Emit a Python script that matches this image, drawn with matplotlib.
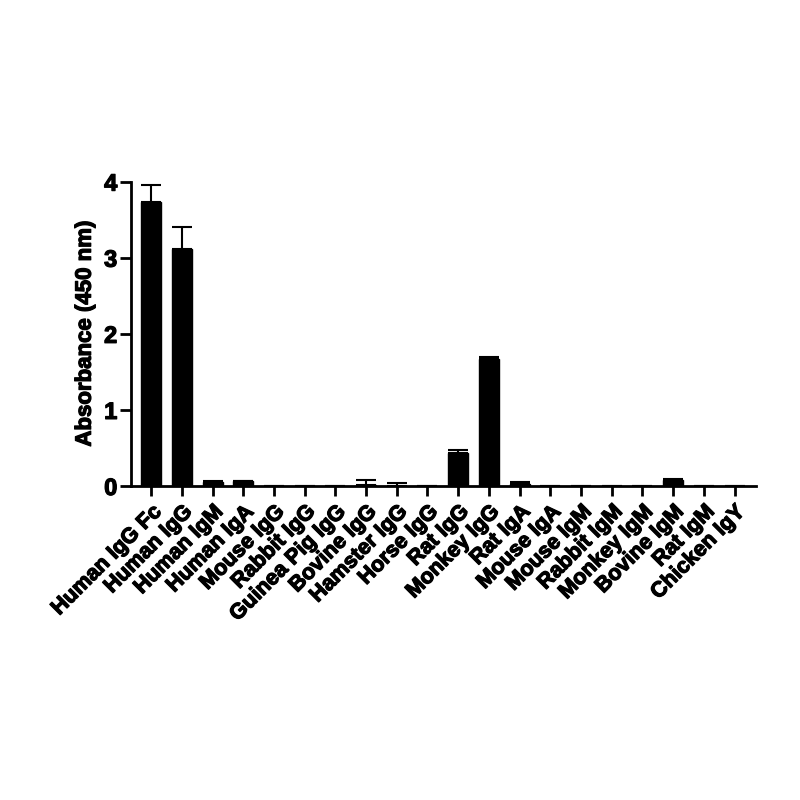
import matplotlib
matplotlib.use('Agg')
import matplotlib.pyplot as plt
import matplotlib.patheffects as pe
import numpy as np

plt.rcParams['font.family'] = ['Liberation Sans', 'DejaVu Sans']
plt.rcParams['font.weight'] = 'bold'

samples = [
    "Human IgG Fc", "Human IgG", "Human IgM", "Human IgA", "Mouse IgG",
    "Rabbit IgG", "Guinea Pig IgG", "Bovine IgG", "Hamster IgG", "Horse IgG",
    "Rat IgG", "Monkey IgG", "Rat IgA", "Mouse IgA", "Mouse IgM",
    "Rabbit IgM", "Monkey IgM", "Bovine IgM", "Rat IgM", "Chicken IgY",
]
absorbance = [3.73, 3.12, 0.05, 0.06, 0.0, 0.0, 0.0, 0.01, 0.005, 0.0,
              0.44, 1.67, 0.02, 0.0, 0.0, 0.0, 0.0, 0.08, 0.0, 0.0]
sd = [0.23, 0.28, 0.01, 0.01, 0.0, 0.0, 0.0, 0.07, 0.035, 0.0,
      0.03, 0.02, 0.03, 0.0, 0.0, 0.0, 0.0, 0.01, 0.0, 0.0]

fig = plt.figure(figsize=(8, 8), dpi=100)
ax = fig.add_axes([0.164, 0.3925, 0.781, 0.3805])

x = np.arange(len(samples))
ax.bar(x, absorbance, width=0.65, color='black', edgecolor='black')
ax.errorbar(x, absorbance, yerr=[np.zeros(len(sd)), sd], fmt='none',
            ecolor='black', elinewidth=1.5, capsize=7, capthick=1.5)

ax.set_xlim(-0.65, 19.7)
ax.set_ylim(0, 4)
ax.set_yticks([0, 1, 2, 3, 4])
ax.set_yticklabels(['0', '1', '2', '3', '4'], fontsize=17, fontweight='bold')
ax.set_xticks(x)
ax.set_xticklabels(samples, rotation=45, ha='right', rotation_mode='anchor',
                   fontsize=15.5, fontweight='bold')
ax.set_ylabel("Absorbance (450 nm)", fontsize=16, fontweight='bold', labelpad=6)

# heavier text like the original export
bold = [pe.withStroke(linewidth=0.9, foreground='black')]
for t in ax.get_xticklabels() + ax.get_yticklabels() + [ax.yaxis.label]:
    t.set_path_effects(bold)

for spine in ['top', 'right']:
    ax.spines[spine].set_visible(False)
for spine in ['left', 'bottom']:
    ax.spines[spine].set_linewidth(2)
ax.tick_params(axis='y', length=8, width=2, pad=2)
ax.tick_params(axis='x', length=7, width=2, pad=4)

plt.savefig("out.png", dpi=100)
